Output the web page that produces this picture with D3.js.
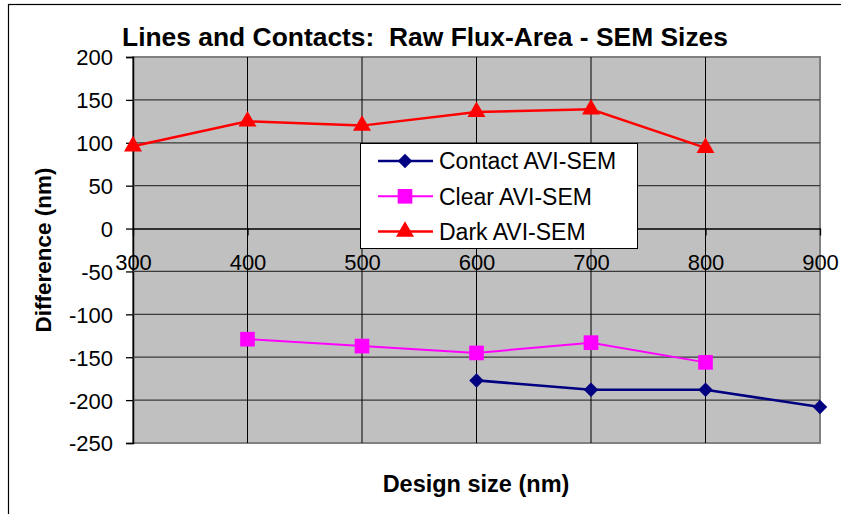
<!DOCTYPE html>
<html>
<head>
<meta charset="utf-8">
<script src="https://cdn.jsdelivr.net/npm/d3@7"></script>
<style>
  html, body { margin: 0; padding: 0; background: #fff; }
  svg { display: block; font-family: "Liberation Sans", Arial, sans-serif; }
  text { white-space: pre; }
</style>
</head>
<body>
<svg id="chart" width="841" height="514"></svg>
<script>
const titleText = "Lines and Contacts:  Raw Flux-Area - SEM Sizes";
const xLabel = "Design size (nm)";
const yLabel = "Difference (nm)";
const xTicks = [300, 400, 500, 600, 700, 800, 900];
const yTicks = [200, 150, 100, 50, 0, -50, -100, -150, -200, -250];

const contactX = [600, 700, 800, 900];
const contactY = [-177, -188, -188, -208];
const clearX = [400, 500, 600, 700, 800];
const clearY = [-129, -137, -145, -133, -156];
const darkX = [300, 400, 500, 600, 700, 800];
const darkY = [96, 125, 120, 136, 139, 94];

const seriesNames = ["Contact AVI-SEM", "Clear AVI-SEM", "Dark AVI-SEM"];
const seriesColors = ["#000080", "#FF00FF", "#FF0000"];

const series = [
  { name: seriesNames[0], xs: contactX, ys: contactY, color: seriesColors[0], sym: d3.symbolSquare, rot: 45, size: 105, lw: 2.6 },
  { name: seriesNames[1], xs: clearX, ys: clearY, color: seriesColors[1], sym: d3.symbolSquare, rot: 0, size: 215, lw: 2 },
  { name: seriesNames[2], xs: darkX, ys: darkY, color: seriesColors[2], sym: d3.symbolTriangle, rot: 0, size: 140, lw: 2.5 }
];

const svg = d3.select("#chart");
const L = 133, R = 820, T = 57, B = 443;
const x = d3.scaleLinear().domain([300, 900]).range([L, R]);
const y = d3.scaleLinear().domain([-250, 200]).range([B, T]);

// outer border
svg.append("rect").attr("x", 8.5).attr("y", 4.5).attr("width", 900).attr("height", 600)
  .attr("fill", "none").attr("stroke", "#000").attr("stroke-width", 1.2);

// plot area
svg.append("rect").attr("x", L).attr("y", T).attr("width", R - L).attr("height", B - T)
  .attr("fill", "#C0C0C0").attr("stroke", "#808080").attr("stroke-width", 2);

// y axis
const yAxis = d3.axisLeft(y).tickValues(yTicks).tickSize(7).tickPadding(13).tickFormat(d => String(d));
const gy = svg.append("g").attr("transform", `translate(${L},0)`).call(yAxis);
gy.select(".domain").attr("stroke", "#000").attr("stroke-width", 1.5);
gy.selectAll(".tick line").attr("stroke", "#000").attr("stroke-width", 1.3);
gy.selectAll(".tick text").attr("font-size", 22).attr("fill", "#000")
  .attr("font-family", "Liberation Sans, Arial, sans-serif").attr("dy", "0.36em");

// x axis at zero (labels below the zero line)
const xAxis = d3.axisBottom(x).tickValues(xTicks).tickSize(7).tickSizeOuter(0).tickPadding(19).tickFormat(d => String(d));
const gx = svg.append("g").attr("transform", `translate(0,${y(0)})`).call(xAxis);
gx.select(".domain").attr("stroke", "#000").attr("stroke-width", 1.5);
gx.selectAll(".tick line").attr("stroke", "#000").attr("stroke-width", 1.3);
gx.selectAll(".tick text").attr("font-size", 22).attr("fill", "#000")
  .attr("font-family", "Liberation Sans, Arial, sans-serif");

// horizontal grid
svg.append("g").selectAll("line").data(yTicks.filter(v => v !== 200 && v !== -250 && v !== 0)).join("line")
  .attr("x1", L).attr("x2", R).attr("y1", d => y(d)).attr("y2", d => y(d))
  .attr("stroke", "#3a3a3a").attr("stroke-width", 1.3);

// vertical grid (drawn over tick labels, as in the reference)
svg.append("g").selectAll("line").data(xTicks.filter(v => v !== 300 && v !== 900)).join("line")
  .attr("x1", d => x(d)).attr("x2", d => x(d)).attr("y1", T).attr("y2", B)
  .attr("stroke", "#000").attr("stroke-width", 1);

// series
series.forEach(s => {
  const pts = s.xs.map((v, i) => [v, s.ys[i]]);
  svg.append("path").datum(pts)
    .attr("d", d3.line().x(d => x(d[0])).y(d => y(d[1])))
    .attr("fill", "none").attr("stroke", s.color).attr("stroke-width", s.lw);
  svg.append("g").selectAll("path").data(pts).join("path")
    .attr("transform", d => `translate(${x(d[0])},${y(d[1])}) rotate(${s.rot})`)
    .attr("d", d3.symbol().type(s.sym).size(s.size))
    .attr("fill", s.color);
});

// legend
const lg = svg.append("g");
lg.append("rect").attr("x", 360.5).attr("y", 143.5).attr("width", 277).attr("height", 105)
  .attr("fill", "#fff").attr("stroke", "#000").attr("stroke-width", 1);
series.forEach((s, i) => {
  const cy = 161 + i * 35.3;
  lg.append("line").attr("x1", 378).attr("x2", 433).attr("y1", cy).attr("y2", cy)
    .attr("stroke", s.color).attr("stroke-width", s.lw);
  lg.append("path").attr("transform", `translate(405,${cy}) rotate(${s.rot})`)
    .attr("d", d3.symbol().type(s.sym).size(s.size)).attr("fill", s.color);
  lg.append("text").attr("x", 439).attr("y", cy).attr("dy", "0.36em")
    .attr("font-size", 23).attr("fill", "#000").text(s.name);
});

// title
svg.append("text").attr("x", 122).attr("y", 46)
  .attr("font-size", 25.5).attr("font-weight", "bold").attr("fill", "#000")
  .attr("textLength", 606).attr("lengthAdjust", "spacingAndGlyphs").text(titleText);

// axis titles
svg.append("text").attr("x", 476).attr("y", 492).attr("text-anchor", "middle")
  .attr("font-size", 23.5).attr("font-weight", "bold").attr("fill", "#000").text(xLabel);
svg.append("text").attr("transform", "translate(51,250) rotate(-90)").attr("text-anchor", "middle")
  .attr("font-size", 22.5).attr("font-weight", "bold").attr("fill", "#000").text(yLabel);
</script>
</body>
</html>
